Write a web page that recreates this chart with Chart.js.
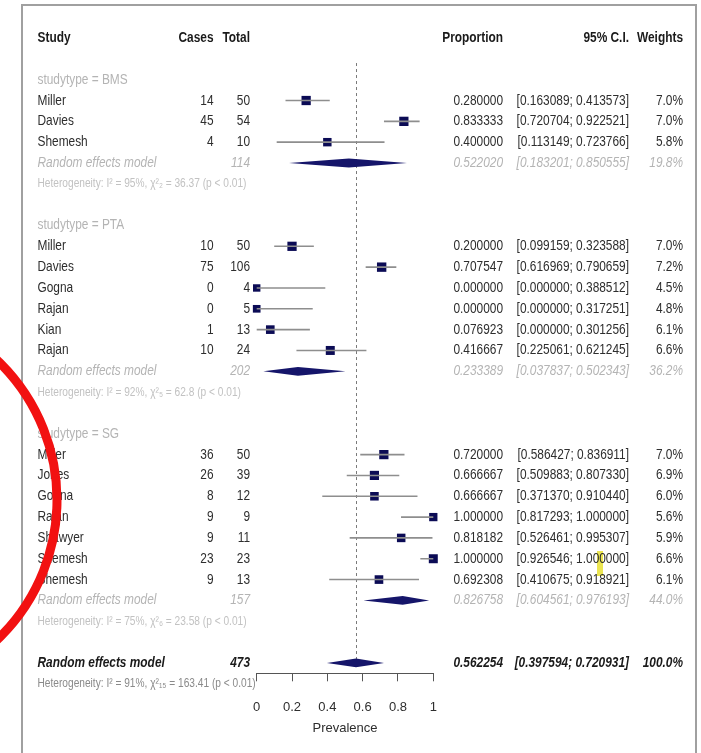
<!DOCTYPE html>
<html>
<head>
<meta charset="utf-8">
<title>Forest plot - prevalence</title>
<script src="https://cdn.jsdelivr.net/npm/chart.js@4.4.1/dist/chart.umd.min.js"></script>
<style>
  html, body { margin: 0; padding: 0; background: #fff; overflow: hidden; }
  #wrap { position: relative; width: 701px; height: 753px; }
  #forest { filter: blur(0.35px); }
  #overlay { position: absolute; left: 0; top: 0; pointer-events: none; }
</style>
</head>
<body>
<div id="wrap">
  <canvas id="forest" width="701" height="753"></canvas>
  <svg id="overlay" width="701" height="753">
    <circle cx="-136" cy="500" r="193" fill="none" stroke="#f21111" stroke-width="9"/>
  </svg>
</div>
<script>
// study level data
const groups = ['BMS', 'PTA', 'SG'];
const studyGroup = ['BMS', 'BMS', 'BMS', 'PTA', 'PTA', 'PTA', 'PTA', 'PTA', 'PTA', 'SG', 'SG', 'SG', 'SG', 'SG', 'SG', 'SG'];
const studyNames = ['Miller', 'Davies', 'Shemesh', 'Miller', 'Davies', 'Gogna', 'Rajan', 'Kian', 'Rajan', 'Miller', 'Jones', 'Gogna', 'Rajan', 'Shawyer', 'Shemesh', 'Shemesh'];
const cases = [14, 45, 4, 10, 75, 0, 0, 1, 10, 36, 26, 8, 9, 9, 23, 9];
const totals = [50, 54, 10, 50, 106, 4, 5, 13, 24, 50, 39, 12, 9, 11, 23, 13];
const proportions = [0.280000, 0.833333, 0.400000, 0.200000, 0.707547, 0.000000, 0.000000, 0.076923, 0.416667, 0.720000, 0.666667, 0.666667, 1.000000, 0.818182, 1.000000, 0.692308];
const lowerCI = [0.163089, 0.720704, 0.113149, 0.099159, 0.616969, 0.000000, 0.000000, 0.000000, 0.225061, 0.586427, 0.509883, 0.371370, 0.817293, 0.526461, 0.926546, 0.410675];
const upperCI = [0.413573, 0.922521, 0.723766, 0.323588, 0.790659, 0.388512, 0.317251, 0.301256, 0.621245, 0.836911, 0.807330, 0.910440, 1.000000, 0.995307, 1.000000, 0.918921];
const weights = [7.0, 7.0, 5.8, 7.0, 7.2, 4.5, 4.8, 6.1, 6.6, 7.0, 6.9, 6.0, 5.6, 5.9, 6.6, 6.1];

// subgroup random effects models
const groupTotals = [114, 202, 157];
const groupProp = [0.522020, 0.233389, 0.826758];
const groupLower = [0.183201, 0.037837, 0.604561];
const groupUpper = [0.850555, 0.502343, 0.976193];
const groupWeight = [19.8, 36.2, 44.0];
const groupHet = [
  'Heterogeneity: I\u00b2 = 95%, \u03c7\u00b2\u2082 = 36.37 (p < 0.01)',
  'Heterogeneity: I\u00b2 = 92%, \u03c7\u00b2\u2085 = 62.8 (p < 0.01)',
  'Heterogeneity: I\u00b2 = 75%, \u03c7\u00b2\u2086 = 23.58 (p < 0.01)'
];

// overall model
const overallTotal = 473;
const overallProp = 0.562254;
const overallLower = 0.397594;
const overallUpper = 0.720931;
const overallWeight = 100.0;
const overallHet = 'Heterogeneity: I\u00b2 = 91%, \u03c7\u00b2\u2081\u2085 = 163.41 (p < 0.01)';

// axis
const xTicks = [0, 0.2, 0.4, 0.6, 0.8, 1];
const xTickLabels = ['0', '0.2', '0.4', '0.6', '0.8', '1'];

// row layout (one unit = one text line)
let row = 2;
const studyRow = [], groupLabelRow = [], groupModelRow = [], groupHetRow = [];
groups.forEach(g => {
    groupLabelRow.push(row++);
    studyGroup.forEach((sg, i) => { if (sg === g) studyRow[i] = row++; });
    groupModelRow.push(row++);
    groupHetRow.push(row++);
    row++;
});
const overallRow = row;
const overallHetRow = row + 1;

// narrow font check, fall back to squeezed Liberation Sans
const hasNarrow = (() => {
    const c = document.createElement('canvas').getContext('2d');
    c.font = '40px "Liberation Sans Narrow", monospace';
    const a = c.measureText('Heterogeneity 0123').width;
    c.font = '40px monospace';
    return a !== c.measureText('Heterogeneity 0123').width;
})();
const FAMILY = hasNarrow ? '"Liberation Sans Narrow", "Arial Narrow", sans-serif' : '"Liberation Sans", Arial, sans-serif';
const SX = hasNarrow ? 1 : 0.82;
const FS = 14.5;
const AXIS_FS = hasNarrow ? FS : 13;

const DARK = '#2e2e2e';
const HEAD = '#1a1a1a';
const LIGHT = '#b4b4b4';
const NAVY = '#0b0b55';

const col = { study: 37.5, cases: 213.5, total: 250, prop: 503, ci: 629, weight: 683 };

function txt(ctx, s, x, y, align, style, color, size) {
    ctx.save();
    ctx.font = `${style} ${size || FS}px ${FAMILY}`;
    ctx.fillStyle = color;
    ctx.textAlign = align;
    ctx.textBaseline = 'middle';
    ctx.translate(x, y);
    ctx.scale(SX, 1);
    ctx.fillText(s, 0, 0);
    ctx.restore();
}

const f6 = v => v.toFixed(6);
const ciText = (lo, hi) => `[${f6(lo)}; ${f6(hi)}]`;

const forestPlugin = {
    id: 'forestPlugin',
    beforeDraw(chart) {
        const ctx = chart.ctx;
        // little yellow highlight sitting on the scan
        ctx.save();
        ctx.fillStyle = 'rgba(232, 224, 50, 0.85)';
        ctx.fillRect(597, 551, 6, 25);
        ctx.restore();
    },
    beforeDatasetsDraw(chart) {
        const { ctx, scales: { x, y } } = chart;
        ctx.save();
        ctx.strokeStyle = '#7a7a7a';
        ctx.lineWidth = 1;
        ctx.setLineDash([3, 3]);
        const px = Math.round(x.getPixelForValue(overallProp)) + 0.5;
        ctx.beginPath();
        ctx.moveTo(px, y.getPixelForValue(1.2));
        ctx.lineTo(px, y.getPixelForValue(overallRow) - 4);
        ctx.stroke();
        ctx.restore();
    },
    afterDatasetsDraw(chart) {
        const { ctx, scales: { x, y } } = chart;
        const diamond = (est, lo, hi, r) => {
            const cy = y.getPixelForValue(r);
            ctx.beginPath();
            ctx.moveTo(x.getPixelForValue(lo), cy);
            ctx.lineTo(x.getPixelForValue(est), cy - 4.4);
            ctx.lineTo(x.getPixelForValue(hi), cy);
            ctx.lineTo(x.getPixelForValue(est), cy + 4.4);
            ctx.closePath();
            ctx.fill();
        };
        ctx.save();
        ctx.fillStyle = '#15156a';
        groups.forEach((g, i) => diamond(groupProp[i], groupLower[i], groupUpper[i], groupModelRow[i]));
        diamond(overallProp, overallLower, overallUpper, overallRow);
        ctx.restore();
    },
    afterDraw(chart) {
        const { ctx, scales: { y } } = chart;
        const Y = r => y.getPixelForValue(r);

        // frame
        ctx.save();
        ctx.strokeStyle = '#a0a0a0';
        ctx.lineWidth = 2;
        ctx.strokeRect(22, 5, 674, 800);
        ctx.restore();

        // header
        const h = Y(0);
        txt(ctx, 'Study', col.study, h, 'left', 'bold', HEAD);
        txt(ctx, 'Cases', col.cases, h, 'right', 'bold', HEAD);
        txt(ctx, 'Total', col.total, h, 'right', 'bold', HEAD);
        txt(ctx, 'Proportion', col.prop, h, 'right', 'bold', HEAD);
        txt(ctx, '95% C.I.', col.ci, h, 'right', 'bold', HEAD);
        txt(ctx, 'Weights', col.weight, h, 'right', 'bold', HEAD);

        groups.forEach((g, gi) => {
            txt(ctx, 'studytype = ' + g, col.study, Y(groupLabelRow[gi]), 'left', 'normal', LIGHT);
            const m = Y(groupModelRow[gi]);
            txt(ctx, 'Random effects model', col.study, m, 'left', 'italic', LIGHT);
            txt(ctx, String(groupTotals[gi]), col.total, m, 'right', 'italic', LIGHT);
            txt(ctx, f6(groupProp[gi]), col.prop, m, 'right', 'italic', LIGHT);
            txt(ctx, ciText(groupLower[gi], groupUpper[gi]), col.ci, m, 'right', 'italic', LIGHT);
            txt(ctx, groupWeight[gi].toFixed(1) + '%', col.weight, m, 'right', 'italic', LIGHT);
            txt(ctx, groupHet[gi], col.study, Y(groupHetRow[gi]), 'left', 'normal', '#c2c2c2', 12.4);
        });

        studyNames.forEach((name, i) => {
            const r = Y(studyRow[i]);
            txt(ctx, name, col.study, r, 'left', 'normal', DARK);
            txt(ctx, String(cases[i]), col.cases, r, 'right', 'normal', DARK);
            txt(ctx, String(totals[i]), col.total, r, 'right', 'normal', DARK);
            txt(ctx, f6(proportions[i]), col.prop, r, 'right', 'normal', DARK);
            txt(ctx, ciText(lowerCI[i], upperCI[i]), col.ci, r, 'right', 'normal', DARK);
            txt(ctx, weights[i].toFixed(1) + '%', col.weight, r, 'right', 'normal', DARK);
        });

        const o = Y(overallRow);
        txt(ctx, 'Random effects model', col.study, o, 'left', 'italic bold', HEAD);
        txt(ctx, String(overallTotal), col.total, o, 'right', 'italic bold', HEAD);
        txt(ctx, f6(overallProp), col.prop, o, 'right', 'italic bold', HEAD);
        txt(ctx, ciText(overallLower, overallUpper), col.ci, o, 'right', 'italic bold', HEAD);
        txt(ctx, overallWeight.toFixed(1) + '%', col.weight, o, 'right', 'italic bold', HEAD);
        txt(ctx, overallHet, col.study, Y(overallHetRow), 'left', 'normal', '#8a8a8a', 12.4);
    }
};

// CI segments, broken by empty points
const ciData = [];
studyNames.forEach((n, i) => {
    ciData.push({ x: lowerCI[i], y: studyRow[i] });
    ciData.push({ x: upperCI[i], y: studyRow[i] });
    ciData.push({ x: null, y: null });
});

const squareData = studyNames.map((n, i) => ({ x: proportions[i], y: studyRow[i] }));
const squareRadius = weights.map(w => 3.5 * Math.sqrt(w) / Math.SQRT2);

new Chart(document.getElementById('forest'), {
    type: 'scatter',
    data: {
        datasets: [{
            label: 'CI',
            data: ciData,
            showLine: true,
            spanGaps: false,
            borderColor: '#8e8e8e',
            borderWidth: 1.6,
            pointRadius: 0,
            clip: false
        }, {
            label: 'Proportion',
            data: squareData,
            pointStyle: 'rect',
            pointRadius: squareRadius,
            pointHoverRadius: squareRadius,
            backgroundColor: NAVY,
            borderColor: NAVY,
            borderWidth: 0,
            clip: false
        }]
    },
    options: {
        responsive: false,
        animation: false,
        devicePixelRatio: 1,
        layout: { padding: { left: 256.7, right: 267.7, top: 17.2, bottom: 0 } },
        plugins: {
            legend: { display: false },
            tooltip: { enabled: false }
        },
        scales: {
            x: {
                type: 'linear',
                min: 0,
                max: 1,
                afterBuildTicks: s => { s.ticks = xTicks.map(v => ({ value: v })); },
                afterFit: s => { s.height = 753 - 673.3; },
                ticks: {
                    callback: (v, i) => xTickLabels[i],
                    padding: 18,
                    maxRotation: 0,
                    autoSkip: false,
                    color: DARK,
                    font: { family: FAMILY, size: AXIS_FS }
                },
                grid: { drawOnChartArea: false, drawTicks: true, tickLength: 8, color: '#555', lineWidth: 1 },
                border: { display: true, color: '#555', width: 1 },
                title: {
                    display: true,
                    text: 'Prevalence',
                    color: DARK,
                    font: { family: FAMILY, size: AXIS_FS },
                    padding: { top: 0, bottom: 17 }
                }
            },
            y: {
                type: 'linear',
                reverse: true,
                min: -1,
                max: 30.5,
                display: false
            }
        }
    },
    plugins: [forestPlugin]
});
</script>
</body>
</html>
